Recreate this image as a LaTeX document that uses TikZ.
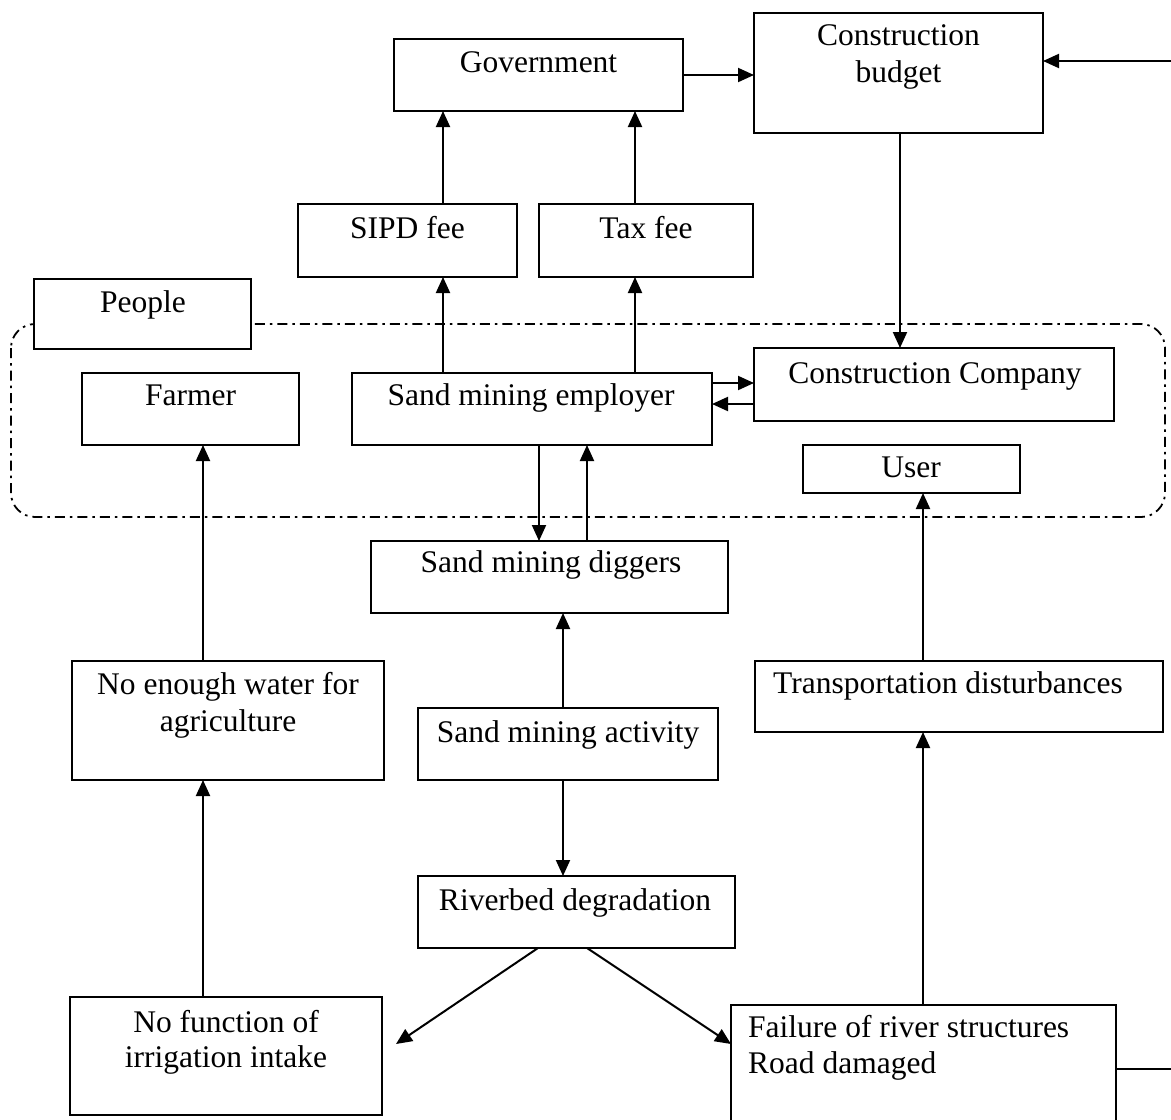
\documentclass[tikz,border=0pt]{standalone}
\usepackage{fontspec}
\setmainfont{Liberation Serif}
\usetikzlibrary{arrows.meta}
\newcommand{\bx}[5]{\node[bx,minimum width={#4pt-#2pt},minimum height={#5pt-#3pt},anchor=north west] (#1) at (#2,#3) {};}
\begin{document}
\begin{tikzpicture}[x=1pt,y=-1pt,
  bx/.style={draw,fill=white,line width=2pt,inner sep=0pt,outer sep=0pt,rectangle},
  tx/.style={inner sep=0pt,font=\fontsize{31.5}{37}\selectfont},
  arr/.style={line width=2pt,-{Triangle[length=16pt,width=14pt]}},
  ln/.style={line width=2pt},
  grp/.style={line width=1.8pt,dash pattern=on 10pt off 5pt on 2.5pt off 5pt,rounded corners=24pt}]
\useasboundingbox (0,0) rectangle (1171,1120);
% group outline
\draw[grp] (11,324) rectangle (1165,517);
% boxes
\bx{gov}{394}{39}{683}{111}
\bx{budget}{754}{13}{1043}{133}
\bx{sipd}{298}{204}{517}{277}
\bx{tax}{539}{204}{753}{277}
\bx{people}{34}{279}{251}{349}
\bx{farmer}{82}{373}{299}{445}
\bx{employer}{352}{373}{712}{445}
\bx{company}{754}{348}{1114}{421}
\bx{user}{803}{445}{1020}{493}
\bx{diggers}{371}{541}{728}{613}
\bx{water}{72}{661}{384}{780}
\bx{activity}{418}{708}{718}{780}
\bx{transport}{755}{661}{1163}{732}
\bx{riverbed}{418}{876}{735}{948}
\bx{nofunc}{70}{997}{382}{1115}
\bx{failure}{731}{1005}{1116}{1150}
% texts
\node[tx,anchor=base] (t-gov) at (538.5,72) {Government};
\node[tx,anchor=base] (t-budget1) at (898.5,45) {Construction};
\node[tx,anchor=base] (t-budget2) at (898.5,82) {budget};
\node[tx,anchor=base] (t-sipd) at (407.5,238) {SIPD fee};
\node[tx,anchor=base] (t-tax) at (646,238) {Tax fee};
\node[tx,anchor=base] (t-people) at (143,312) {People};
\node[tx,anchor=base] (t-farmer) at (190.5,405) {Farmer};
\node[tx,anchor=base] (t-employer) at (531,405) {Sand mining employer};
\node[tx,anchor=base] (t-company) at (935,383) {Construction Company};
\node[tx,anchor=base] (t-user) at (911,477) {User};
\node[tx,anchor=base] (t-diggers) at (551,572) {Sand mining diggers};
\node[tx,anchor=base] (t-water1) at (228,694) {No enough water for};
\node[tx,anchor=base] (t-water2) at (228,731) {agriculture};
\node[tx,anchor=base] (t-activity) at (568,742) {Sand mining activity};
\node[tx,anchor=base west] (t-transport) at (773,693) {Transportation disturbances};
\node[tx,anchor=base] (t-riverbed) at (575,910) {Riverbed degradation};
\node[tx,anchor=base] (t-nofunc1) at (226,1032) {No function of};
\node[tx,anchor=base] (t-nofunc2) at (226,1067) {irrigation intake};
\node[tx,anchor=base west] (t-failure1) at (748,1037) {Failure of river structures};
\node[tx,anchor=base west] (t-failure2) at (748,1073) {Road damaged};
% helper coordinates
\coordinate (xsipd) at (443,0);
\coordinate (xtax) at (635,0);
\coordinate (xbud) at (900,0);
\coordinate (xdown) at (539,0);
\coordinate (xup) at (587,0);
\coordinate (xact) at (563,0);
\coordinate (xriv1) at (538,0);
\coordinate (xfarm) at (203,0);
\coordinate (xfail) at (923,0);
\coordinate (ya) at (0,383);
\coordinate (yb) at (0,404);
\coordinate (rin) at (1171,61);
\coordinate (rout) at (1171,1069);
\coordinate (tipL) at (396,1044);
\coordinate (tipR) at (0,1044);
% connectors
\draw[arr] (gov.east) -- (budget.west |- gov.east);
\draw[arr] (rin) -- (budget.east |- rin);
\draw[arr] (budget.south -| xbud) -- (company.north -| xbud);
\draw[arr] (sipd.north -| xsipd) -- (gov.south -| xsipd);
\draw[arr] (tax.north -| xtax) -- (gov.south -| xtax);
\draw[arr] (employer.north -| xsipd) -- (sipd.south -| xsipd);
\draw[arr] (employer.north -| xtax) -- (tax.south -| xtax);
\draw[arr] (employer.east |- ya) -- (company.west |- ya);
\draw[arr] (company.west |- yb) -- (employer.east |- yb);
\draw[arr] (employer.south -| xdown) -- (diggers.north -| xdown);
\draw[arr] (diggers.north -| xup) -- (employer.south -| xup);
\draw[arr] (activity.north -| xact) -- (diggers.south -| xact);
\draw[arr] (activity.south -| xact) -- (riverbed.north -| xact);
\draw[arr] (riverbed.south -| xriv1) -- (tipL);
\draw[arr] (riverbed.south -| xup) -- (failure.west |- tipR);
\draw[arr] (nofunc.north -| xfarm) -- (water.south -| xfarm);
\draw[arr] (water.north -| xfarm) -- (farmer.south -| xfarm);
\draw[arr] (failure.north -| xfail) -- (transport.south -| xfail);
\draw[arr] (transport.north -| xfail) -- (user.south -| xfail);
\draw[ln] (failure.east |- rout) -- (rout);
\end{tikzpicture}
\end{document}
